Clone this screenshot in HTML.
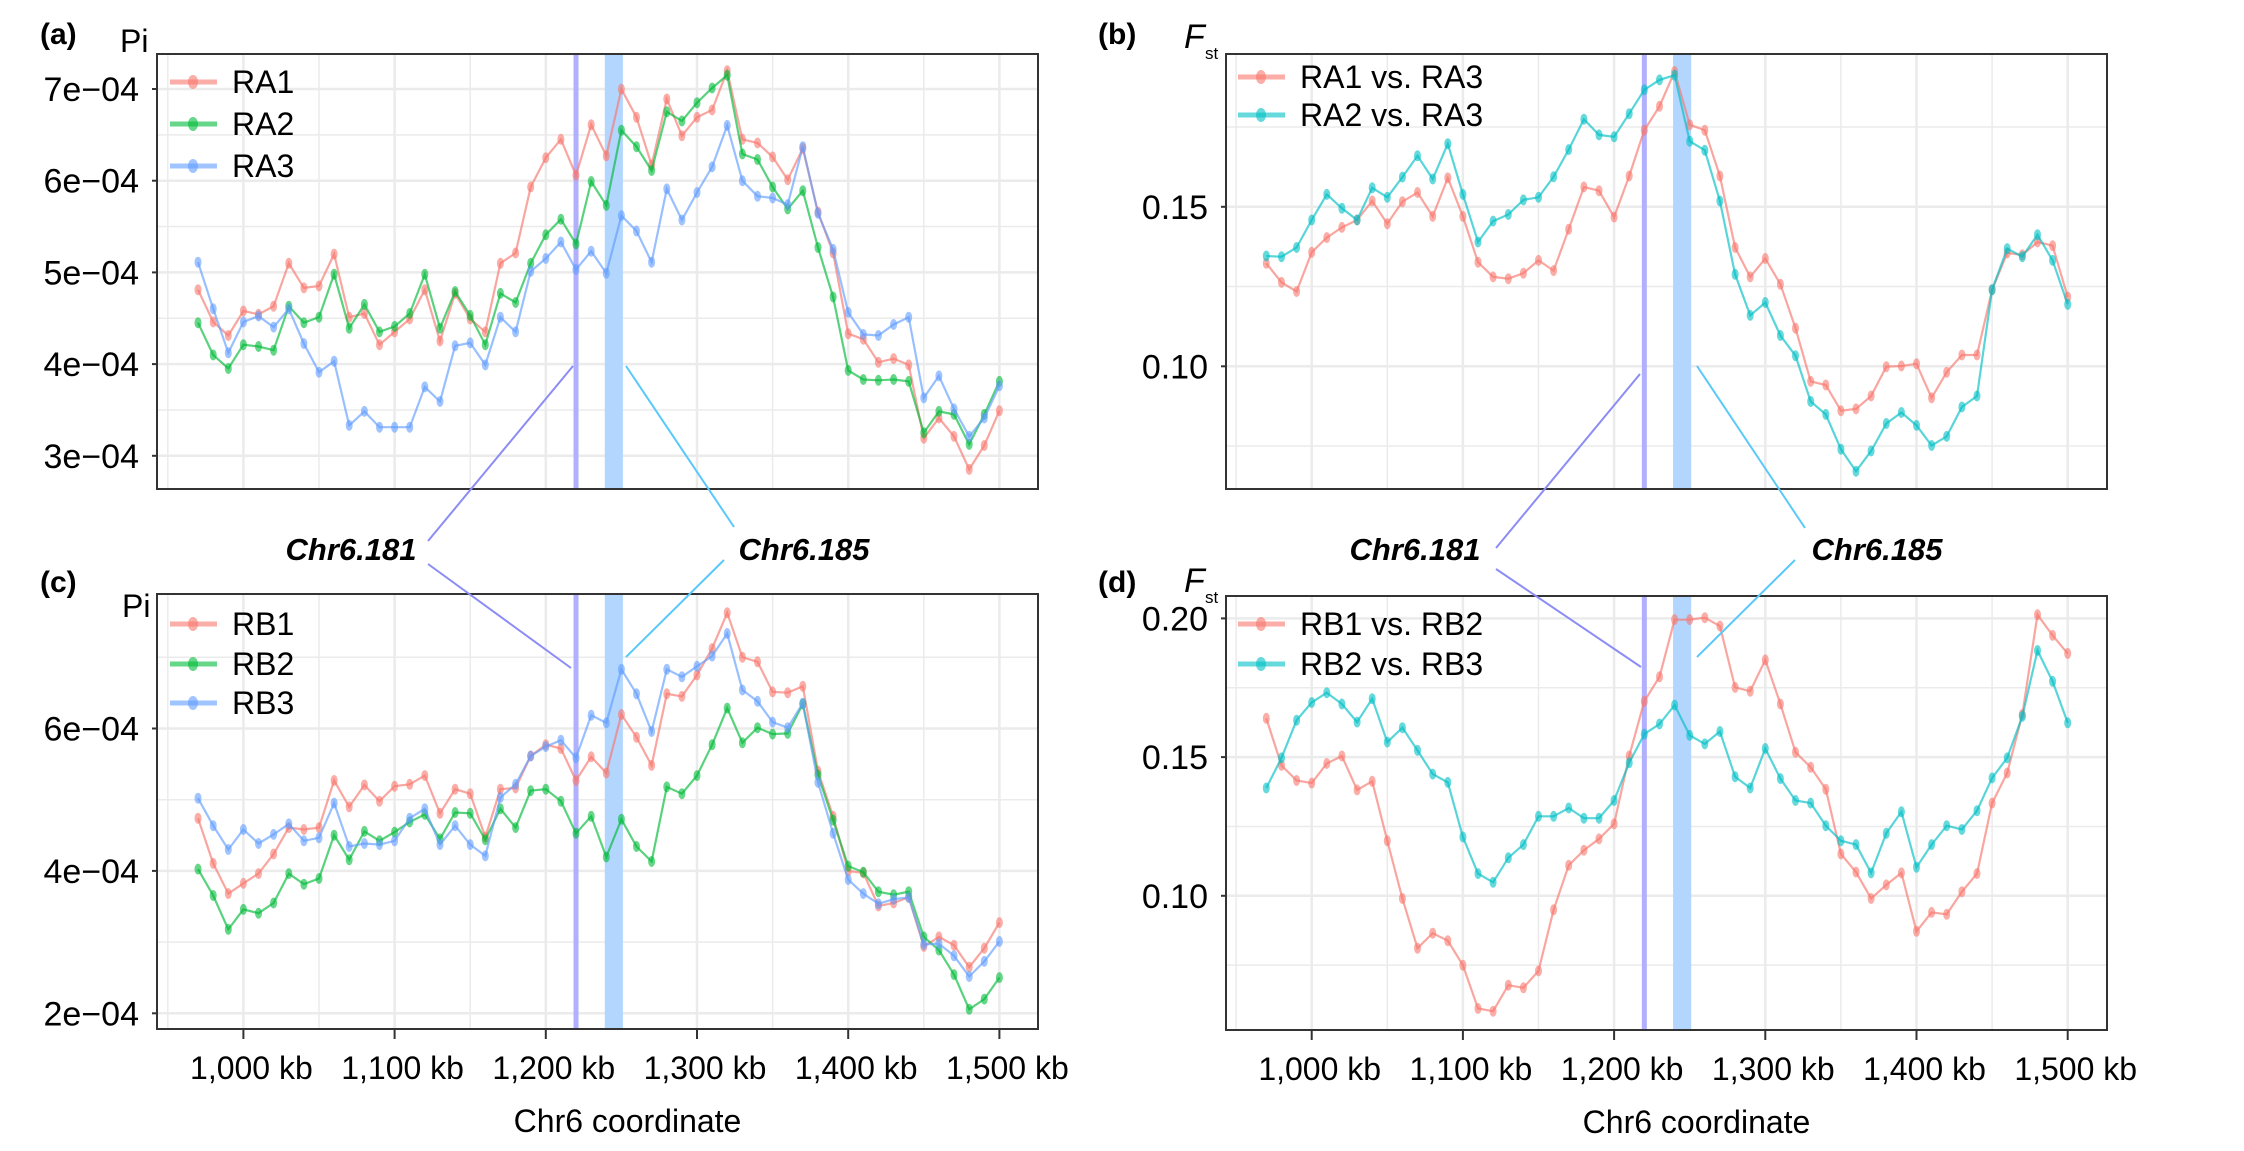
<!DOCTYPE html>
<html><head><meta charset="utf-8"><style>
html,body{margin:0;padding:0;background:#fff;}
svg{display:block;font-family:"Liberation Sans",sans-serif;}
</style></head><body>
<svg id="s" width="2244" height="1151" xmlns="http://www.w3.org/2000/svg"></svg>
<script>
const S=document.getElementById('s');let h='';
const RED='#F8766D',GRN='#00BA38',BLU='#619CFF',TEAL='#00BFC4';
function kbs(){const a=[];for(let k=970;k<=1500;k+=10)a.push(k);return a;}
const KB=kbs();
function panel(o){
 const {L,R,T,B,x0,yoff,ys,ticks,minor,series,legY,legX}=o;
 const X=k=>x0+(k-1000)*1.512;
 h+=`<rect x="${L}" y="${T}" width="${R-L}" height="${B-T}" fill="#fff"/>`;
 for(let k=950;k<=1500;k+=50){const x=X(k);if(x>L&&x<R)h+=`<line x1="${x}" y1="${T}" x2="${x}" y2="${B}" stroke="#ebebeb" stroke-width="${k%100?1.5:2.5}"/>`;}
 minor.forEach(y=>h+=`<line x1="${L}" y1="${y}" x2="${R}" y2="${y}" stroke="#ebebeb" stroke-width="1.5"/>`);
 ticks.forEach(t=>{h+=`<line x1="${L}" y1="${t[1]}" x2="${R}" y2="${t[1]}" stroke="#ebebeb" stroke-width="2.5"/><line x1="${L-5}" y1="${t[1]}" x2="${L}" y2="${t[1]}" stroke="#333" stroke-width="2"/><text x="${L-18}" y="${t[1]+12}" font-size="34" text-anchor="end">${t[0]}</text>`;});
 h+=`<rect x="${X(1220)-2.5}" y="${T}" width="5" height="${B-T}" fill="#b0b0ff"/>`;
 h+=`<rect x="${X(1239)}" y="${T}" width="${X(1251)-X(1239)}" height="${B-T}" fill="#b3d6ff"/>`;
 series.forEach(s=>{
  const pts=s.d.map((zy,i)=>[X(KB[i]),zy/ys+yoff]);
  h+=`<polyline points="${pts.map(p=>p[0].toFixed(1)+','+p[1].toFixed(1)).join(' ')}" fill="none" stroke="${s.c}" stroke-opacity="0.65" stroke-width="2.2"/>`;
  pts.forEach(p=>h+=`<ellipse cx="${p[0].toFixed(1)}" cy="${p[1].toFixed(1)}" rx="3.5" ry="5.5" fill="${s.c}" fill-opacity="0.6"/>`);
 });
 h+=`<rect x="${L}" y="${T}" width="${R-L}" height="${B-T}" fill="none" stroke="#333" stroke-width="2"/>`;
 series.forEach((s,i)=>{const y=legY[i];h+=`<line x1="${legX}" y1="${y}" x2="${legX+47}" y2="${y}" stroke="${s.c}" stroke-opacity="0.6" stroke-width="5"/><ellipse cx="${legX+23}" cy="${y}" rx="5" ry="7" fill="${s.c}" fill-opacity="0.6"/><text x="${legX+62}" y="${y+11}" font-size="32">${s.n}</text>`;});
 if(o.xaxis){[1000,1100,1200,1300,1400,1500].forEach(k=>{const x=X(k);h+=`<line x1="${x}" y1="${B}" x2="${x}" y2="${B+10}" stroke="#333" stroke-width="2"/><text x="${x+8}" y="${B+50}" font-size="32" text-anchor="middle">${k.toLocaleString('en-US')} kb</text>`;});
 h+=`<text x="${(L+R)/2+30}" y="${B+103}" font-size="32" text-anchor="middle">Chr6 coordinate</text>`;}
}
const pa=v=>89+(7-v)*91.7;
panel({L:157,R:1038,T:54,B:489,x0:243.4,yoff:0,ys:2.727,
 ticks:[['7e−04',pa(7)],['6e−04',pa(6)],['5e−04',pa(5)],['4e−04',pa(4)],['3e−04',pa(3)]],
 minor:[pa(6.5),pa(5.5),pa(4.5),pa(3.5)],legX:170,legY:[82,124,166],
 series:[
 {n:'RA1',c:RED,d:[790,878,915,848,857,835,718,785,780,693,865,855,940,905,870,790,930,800,870,905,718,690,510,430,380,478,340,425,243,320,450,270,370,320,300,193,380,390,428,490,405,578,690,910,925,988,978,995,1195,1140,1190,1280,1215,1120]},
 {n:'RA2',c:GRN,d:[880,968,1005,940,945,955,835,880,865,748,895,830,905,890,855,748,895,795,860,940,800,825,718,640,598,665,495,560,355,400,465,305,330,280,240,205,420,435,510,570,520,675,810,1010,1035,1037,1035,1040,1180,1122,1130,1212,1130,1040]},
 {n:'RA3',c:BLU,d:[715,842,962,878,862,892,842,937,1015,985,1160,1122,1165,1165,1165,1055,1095,943,935,995,865,905,740,705,660,735,685,745,588,630,715,515,600,525,455,342,493,535,540,558,400,582,680,852,912,915,885,865,1085,1025,1115,1190,1140,1052]}]});
const pc=v=>728.5+(6-v)*71.2;
panel({L:157,R:1038,T:594,B:1029,x0:243.4,yoff:560,ys:2.653,xaxis:true,
 ticks:[['6e−04',pc(6)],['4e−04',pc(4)],['2e−04',pc(2)]],
 minor:[pc(7),pc(5),pc(3)],legX:170,legY:[624,664,703],
 series:[
 {n:'RB1',c:RED,d:[685,805,885,858,832,780,710,715,710,585,655,597,640,600,595,572,672,608,620,735,608,605,520,490,500,585,522,565,410,470,545,355,362,305,235,140,258,270,350,352,335,560,680,825,830,918,910,895,1025,1000,1022,1080,1030,962]},
 {n:'RB2',c:GRN,d:[820,890,980,927,937,910,832,860,845,730,795,720,745,722,695,675,740,670,672,742,660,710,612,608,640,725,680,788,688,760,800,602,620,572,490,393,485,445,462,460,382,570,690,812,828,880,888,880,1000,1035,1100,1192,1165,1108]},
 {n:'RB3',c:BLU,d:[632,705,768,715,752,728,700,745,737,645,760,752,755,745,685,660,755,705,755,785,630,595,520,495,478,525,412,432,290,355,455,290,310,282,255,195,345,375,430,445,380,590,725,848,885,912,900,895,1020,1018,1050,1105,1065,1012]}]});
const pb=v=>206.8+(0.15-v)/0.05*159.5;
panel({L:1226,R:2107,T:54,B:489,x0:1311.7,yoff:0,ys:2.727,
 ticks:[['0.15',pb(0.15)],['0.10',pb(0.10)]],
 minor:[pb(0.175),pb(0.125),pb(0.075)],legX:1238,legY:[77,115],
 series:[
 {n:'RA1 vs. RA3',c:RED,d:[718,770,795,688,648,620,600,548,610,550,525,590,485,590,715,755,760,745,710,738,625,510,520,592,480,355,290,195,340,355,480,675,755,705,775,895,1040,1050,1120,1115,1080,1000,998,992,1085,1015,968,968,790,690,695,660,670,810]},
 {n:'RA2 vs. RA3',c:TEAL,d:[698,700,675,600,530,568,600,512,538,483,425,488,392,530,660,603,585,545,538,482,408,325,368,373,310,245,218,205,385,410,548,748,860,825,915,970,1095,1130,1225,1285,1230,1155,1125,1160,1215,1190,1110,1080,790,678,700,640,710,830]}]});
const pd=v=>618.4+(0.20-v)/0.05*138.7;
panel({L:1226,R:2107,T:596,B:1030,x0:1311.7,yoff:560,ys:2.653,xaxis:true,
 ticks:[['0.20',pd(0.20)],['0.15',pd(0.15)],['0.10',pd(0.10)]],
 minor:[pd(0.175),pd(0.125),pd(0.075)],legX:1238,legY:[624,664],
 series:[
 {n:'RB1 vs. RB2',c:RED,d:[420,545,585,592,540,520,610,587,745,898,1030,990,1010,1075,1190,1197,1128,1135,1090,928,810,770,740,700,520,375,310,158,158,153,175,338,348,265,382,510,550,608,780,828,898,862,830,985,935,940,880,832,645,565,410,145,200,248]},
 {n:'RB2 vs. RB3',c:TEAL,d:[605,525,425,378,352,382,430,368,483,445,505,568,590,735,832,855,790,755,680,680,658,685,685,638,538,462,435,385,465,488,455,575,605,500,580,638,645,705,745,755,830,725,668,815,755,705,715,665,578,525,415,240,322,432]}]});
const P='#8c8cf5',C='#5ac8fa';
h+=`<line x1="573" y1="366" x2="428" y2="541" stroke="${P}" stroke-width="2"/><line x1="428" y1="564" x2="571" y2="668" stroke="${P}" stroke-width="2"/>`;
h+=`<line x1="626" y1="366" x2="734" y2="527" stroke="${C}" stroke-width="2"/><line x1="724" y1="560" x2="626" y2="657" stroke="${C}" stroke-width="2"/>`;
h+=`<line x1="1640" y1="374" x2="1496" y2="548" stroke="${P}" stroke-width="2"/><line x1="1496" y1="569" x2="1641" y2="667" stroke="${P}" stroke-width="2"/>`;
h+=`<line x1="1697" y1="366" x2="1805" y2="528" stroke="${C}" stroke-width="2"/><line x1="1795" y1="560" x2="1697" y2="657" stroke="${C}" stroke-width="2"/>`;
const lab=(x,y,t)=>h+=`<text x="${x}" y="${y}" font-size="31" font-weight="bold" font-style="italic" text-anchor="middle">${t}</text>`;
lab(351,560,'Chr6.181');lab(804,560,'Chr6.185');lab(1415,560,'Chr6.181');lab(1877,560,'Chr6.185');
const pl=(x,y,t)=>h+=`<text x="${x}" y="${y}" font-size="30" font-weight="bold">${t}</text>`;
pl(40,44,'(a)');pl(1098,44,'(b)');pl(40,592,'(c)');pl(1098,592,'(d)');
h+=`<text x="120" y="52" font-size="32">Pi</text><text x="122" y="617" font-size="32">Pi</text>`;
h+=`<text x="1184" y="48" font-size="34" font-style="italic">F</text><text x="1205" y="59" font-size="17">st</text>`;
h+=`<text x="1184" y="592" font-size="34" font-style="italic">F</text><text x="1205" y="603" font-size="17">st</text>`;
S.innerHTML=h;
</script>
</body></html>
